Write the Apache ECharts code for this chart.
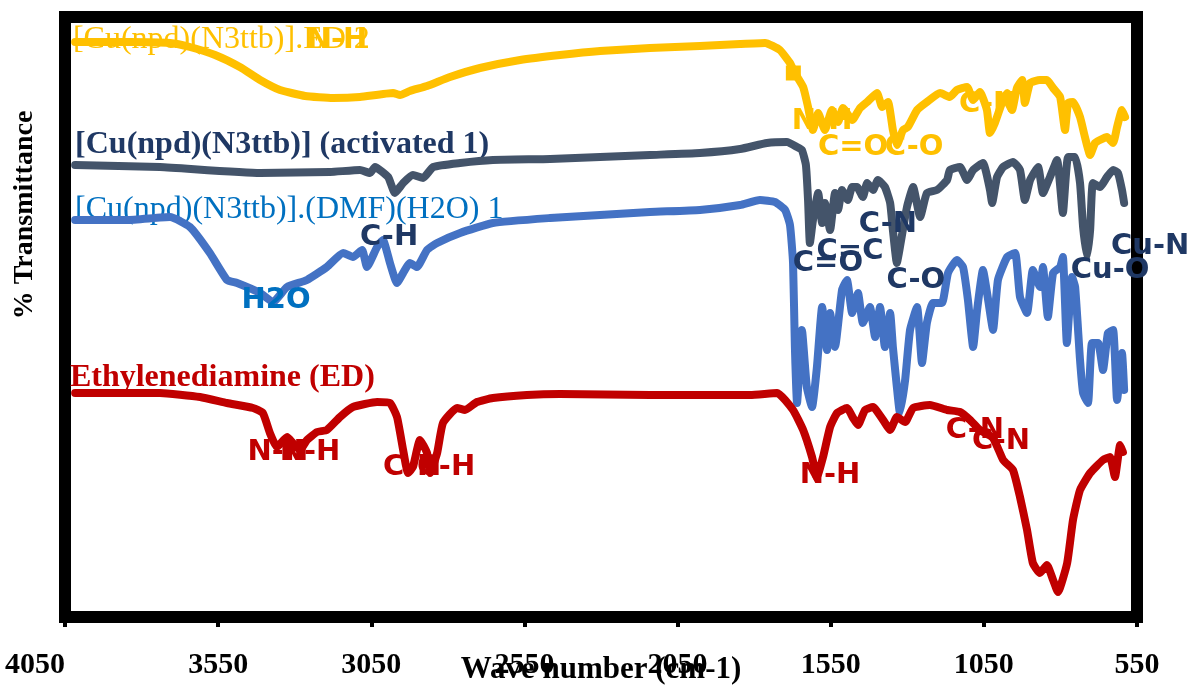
<!DOCTYPE html>
<html>
<head>
<meta charset="utf-8">
<script src="https://cdn.jsdelivr.net/npm/echarts@6/dist/echarts.min.js"></script>
<style>
  html, body { margin: 0; padding: 0; background: #ffffff; }
  #chart { width: 1191px; height: 686px; }
</style>
</head>
<body>
<div id="chart"></div>
<script>
// FTIR spectra: [wavenumber (cm-1), relative transmittance (offset for stacking)]
const spectrumCuED = [
  [4017,115],[3838,115],[3707,114.8],[3642,114],[3560,112.4],[3479,110],[3413,107.4],[3348,105.4],
  [3266,104.2],[3175,103.8],[3087,104],[2979,104.8],[2956,104.4],[2924,105.2],[2868,106.2],[2793,108],
  [2695,109.8],[2564,111.4],[2434,112.4],[2303,113.2],[2140,113.8],[1977,114.2],[1846,114.6],[1764,114.8],
  [1716,113.4],[1683,110.8],[1667,108.8],[1640,106],[1624,102],[1608,97.4],[1591,100.8],[1569,97.4],
  [1546,101.4],[1526,99],[1510,101.8],[1480,99.4],[1454,101.8],[1431,103],[1399,104.8],[1382,102],
  [1363,103],[1347,97.4],[1334,94.4],[1314,97.4],[1298,98],[1268,101.4],[1236,103],[1193,104.8],
  [1161,104],[1138,105.4],[1105,106],[1085,103.4],[1063,105],[1040,101.4],[1030,96.8],[1014,98.8],
  [991,102.8],[974,104.8],[958,101.4],[942,105.8],[925,107.4],[916,102.8],[899,106.8],[867,107.4],
  [844,107.4],[824,105.8],[801,104],[785,97.4],[775,102.8],[759,103],[736,100],[720,96],
  [703,92.4],[687,94.8],[671,95.4],[648,96],[628,94.8],[615,98],[599,101.4],[589,100]
];
const markerCuED = [[1672,108.8]];

const spectrumActivated = [
  [4017,90.4],[3740,90],[3413,88.8],[3185,89],[3087,89.4],[3054,88.8],[3038,90],[2995,88],
  [2973,84.8],[2946,86.8],[2914,88.4],[2881,87.8],[2848,90],[2760,90.8],[2653,91.4],[2466,91.6],
  [2303,92],[2140,92.4],[1977,92.8],[1846,93.6],[1758,94.8],[1693,95],[1660,94],[1644,93.4],
  [1631,90.4],[1624,83.4],[1618,74.8],[1608,79.4],[1591,84.8],[1578,78.8],[1569,82.8],[1552,77.4],
  [1536,84.8],[1526,81.4],[1513,85.4],[1494,83.4],[1480,86],[1464,86],[1445,84],[1431,86.8],
  [1412,85.4],[1396,87.4],[1373,86],[1356,82.8],[1347,77.4],[1334,70.8],[1324,74],[1301,82],
  [1281,86],[1258,80],[1236,84.8],[1203,85.4],[1170,87.4],[1161,89.4],[1128,90],[1105,87.4],
  [1085,89.4],[1053,90.8],[1030,85.4],[1023,82.8],[1007,88],[987,90],[955,91],[932,89.4],
  [916,83.4],[899,87.4],[873,90],[857,84.8],[834,88],[811,91.4],[792,80.8],[775,92],
  [752,92],[736,86.8],[726,78],[713,72],[703,77.4],[694,86.8],[671,86],[648,88],
  [628,89.4],[612,88.8],[599,85.4],[592,82.8]
];

const spectrumDMF = [
  [4017,79.4],[3848,79.4],[3707,80],[3642,78],[3577,72.8],[3521,67.4],[3488,66.8],[3413,64.8],
  [3371,63],[3325,66],[3260,67.4],[3195,70],[3142,72.8],[3110,72],[3080,73.4],[3064,70],
  [3031,74],[3012,75.4],[2989,70.8],[2966,66.8],[2946,68.8],[2924,70.8],[2901,70],[2868,73.4],
  [2835,74.8],[2760,76.8],[2653,78.8],[2466,79.8],[2303,80.4],[2140,81],[1977,81.4],[1846,82.4],
  [1781,83.4],[1732,83],[1699,81.4],[1683,78.4],[1673,70.8],[1667,54],[1660,42.8],[1644,57.4],
  [1628,46],[1611,42],[1595,50],[1578,62],[1562,53.4],[1552,60.8],[1536,54],[1513,65.4],
  [1497,67.4],[1480,60.8],[1461,64.8],[1445,58.8],[1422,62],[1405,56],[1389,62],[1373,54],
  [1356,60.8],[1347,54],[1334,46],[1324,40.8],[1307,47.4],[1291,57.4],[1268,62],[1252,50.8],
  [1236,58.8],[1216,62.8],[1187,62.8],[1167,68.8],[1138,71.4],[1118,70],[1102,63.4],[1085,54],
  [1072,61.4],[1053,69.4],[1036,63.4],[1020,57.4],[1004,67.4],[974,72],[948,72.8],[932,64],
  [909,60.8],[890,69.4],[867,66],[857,70],[841,60],[824,68.8],[801,70],[792,72],
  [779,54.8],[762,68],[752,66],[736,51.4],[726,44.8],[710,42.8],[697,54.8],[677,54.8],
  [661,49.4],[645,56.8],[628,57.4],[615,43.4],[599,52.8],[592,45.4]
];

const spectrumED = [
  [4017,44.8],[3740,44.8],[3609,44],[3521,42.8],[3436,41.8],[3404,40.8],[3381,36.8],[3358,34],
  [3325,36],[3306,34.8],[3283,33.4],[3260,35.4],[3227,37],[3195,37.4],[3152,40],[3110,42],
  [3031,43],[2989,42.8],[2966,40],[2946,33.4],[2930,28.8],[2914,30],[2891,35.4],[2868,32.8],
  [2858,28.8],[2835,32.8],[2816,38.8],[2770,41.8],[2744,41.4],[2705,43],[2653,43.8],[2542,44.4],
  [2434,44.6],[2140,44.4],[1813,44.4],[1725,44.8],[1673,41.4],[1640,37.4],[1611,32],[1595,28],
  [1575,32],[1552,38],[1529,40.8],[1497,41.8],[1477,39.8],[1461,38.4],[1438,41.4],[1412,42],
  [1379,39.4],[1356,37.4],[1334,40],[1307,39],[1281,41.8],[1226,42.4],[1170,41.4],[1128,41],
  [1095,39.4],[1063,37.4],[1020,35.8],[987,31.4],[955,29.4],[932,24],[909,17.4],[890,10.8],
  [867,8.8],[844,10.4],[824,7.4],[808,5],[778,10.8],[759,19.4],[736,25.4],[703,28.8],
  [661,31.4],[638,32],[622,28],[605,34.4],[596,33]
];

// Sample names: [text, wavenumber, transmittance, colour, weight]
const sampleNames = [
  ['[Cu(npd)(N3ttb)].ED 2', 4024, 115.4, '#FFC000', 'normal'],
  ['[Cu(npd)(N3ttb)] (activated 1)', 4017, 94.4, '#1F3864', 'bold'],
  ['[Cu(npd)(N3ttb)].(DMF)(H2O) 1', 4017, 81.4, '#0070C0', 'normal'],
  ['Ethylenediamine (ED)', 4034, 47.8, '#C00000', 'bold']
];
// Band assignments: [text, wavenumber, transmittance, colour, drawn above the spectra]
const bandLabels = [
  ['N-H', 3162, 115.4, '#FFC000', false],
  ['N-H', 1578, 99.2, '#FFC000', false],
  ['C=O', 1477, 94, '#FFC000', false],
  ['C-O', 1278, 94, '#FFC000', false],
  ['C-N', 1036, 102.6, '#FFC000', false],
  ['C-H', 2992, 76, '#1F3864', true],
  ['C=O', 1559, 70.8, '#1F3864', true],
  ['C=C', 1487, 73.2, '#1F3864', true],
  ['C-N', 1363, 78.6, '#1F3864', true],
  ['C-O', 1272, 67.4, '#1F3864', true],
  ['Cu-O', 638, 69.4, '#1F3864', true],
  ['Cu-N', 507, 74.2, '#1F3864', true],
  ['H2O', 3361, 63.4, '#0070C0', true],
  ['N-H', 3355, 33, '#C00000', false],
  ['N-H', 3250, 33, '#C00000', false],
  ['C-H', 2917, 30, '#C00000', false],
  ['C-H', 2806, 30, '#C00000', false],
  ['N-H', 1552, 28.4, '#C00000', false],
  ['C-N', 1079, 37.4, '#C00000', false],
  ['C-N', 994, 35.2, '#C00000', false]
];

const chart = echarts.init(document.getElementById('chart'), null, { renderer: 'canvas' });

function lineSeries(name, data, color) {
  return {
    name: name,
    type: 'line',
    data: data,
    showSymbol: false,
    symbol: 'none',
    smooth: 0.15,
    silent: true,
    z: 2,
    lineStyle: { color: color, width: 8, cap: 'round', join: 'round' }
  };
}

chart.setOption({
  animation: false,
  backgroundColor: '#ffffff',
  grid: {
    left: 65, right: 54, top: 17, bottom: 69,
    containLabel: false, outerBoundsMode: 'none',
    show: true, borderColor: '#000000', borderWidth: 12, backgroundColor: 'transparent'
  },
  xAxis: {
    type: 'value',
    min: 550, max: 4050, interval: 500,
    inverse: true,
    name: 'Wave number (cm-1)',
    nameLocation: 'middle',
    nameGap: 37,
    nameMoveOverlap: false,
    nameTextStyle: { fontFamily: 'Liberation Serif', fontWeight: 'bold', fontSize: 31, color: '#000000' },
    axisLine: { show: false },
    axisTick: { show: true, length: 10, lineStyle: { color: '#000000', width: 4 } },
    axisLabel: {
      margin: 33, fontFamily: 'Liberation Serif', fontWeight: 'bold', fontSize: 30, color: '#000000',
      alignMaxLabel: 'right',
      formatter: function (v) { return String(v); }
    },
    splitLine: { show: false }
  },
  yAxis: {
    type: 'value',
    min: 0, max: 120,
    axisLine: { show: false },
    axisTick: { show: false },
    axisLabel: { show: false },
    splitLine: { show: false }
  },
  series: [
    lineSeries('[Cu(npd)(N3ttb)].ED 2', spectrumCuED, '#FFC000'),
    lineSeries('[Cu(npd)(N3ttb)] (activated 1)', spectrumActivated, '#44546A'),
    lineSeries('[Cu(npd)(N3ttb)].(DMF)(H2O) 1', spectrumDMF, '#4472C4'),
    lineSeries('Ethylenediamine (ED)', spectrumED, '#C00000'),
    {
      type: 'scatter', data: markerCuED, symbol: 'rect', symbolSize: 15,
      itemStyle: { color: '#FFC000', opacity: 1 }, silent: true, z: 3
    }
  ]
});

// Place sample names and band assignments at their data coordinates
const texts = [];
sampleNames.forEach(function (n) {
  const p = chart.convertToPixel({ gridIndex: 0 }, [n[1], n[2]]);
  texts.push({
    type: 'text', x: p[0], y: p[1], z: 1, silent: true,
    style: {
      text: n[0], fill: n[3],
      font: n[4] + ' 32px "Liberation Serif"',
      textAlign: 'left', textVerticalAlign: 'middle', verticalAlign: 'middle'
    }
  });
});
bandLabels.forEach(function (b) {
  const p = chart.convertToPixel({ gridIndex: 0 }, [b[1], b[2]]);
  texts.push({
    type: 'text', x: p[0], y: p[1], z: b[4] ? 100 : 1, silent: true,
    style: {
      text: b[0], fill: b[3],
      font: 'bold 29px "DejaVu Sans"',
      textAlign: 'center', textVerticalAlign: 'middle', verticalAlign: 'middle'
    }
  });
});
// y-axis title
texts.push({
  type: 'text', x: 25, y: 215, rotation: Math.PI / 2, z: 100, silent: true,
  style: {
    text: '% Transmittance', fill: '#000000',
    font: 'bold 28px "Liberation Serif"',
    textAlign: 'center', textVerticalAlign: 'middle', verticalAlign: 'middle'
  }
});
chart.setOption({ graphic: texts });
</script>
</body>
</html>
